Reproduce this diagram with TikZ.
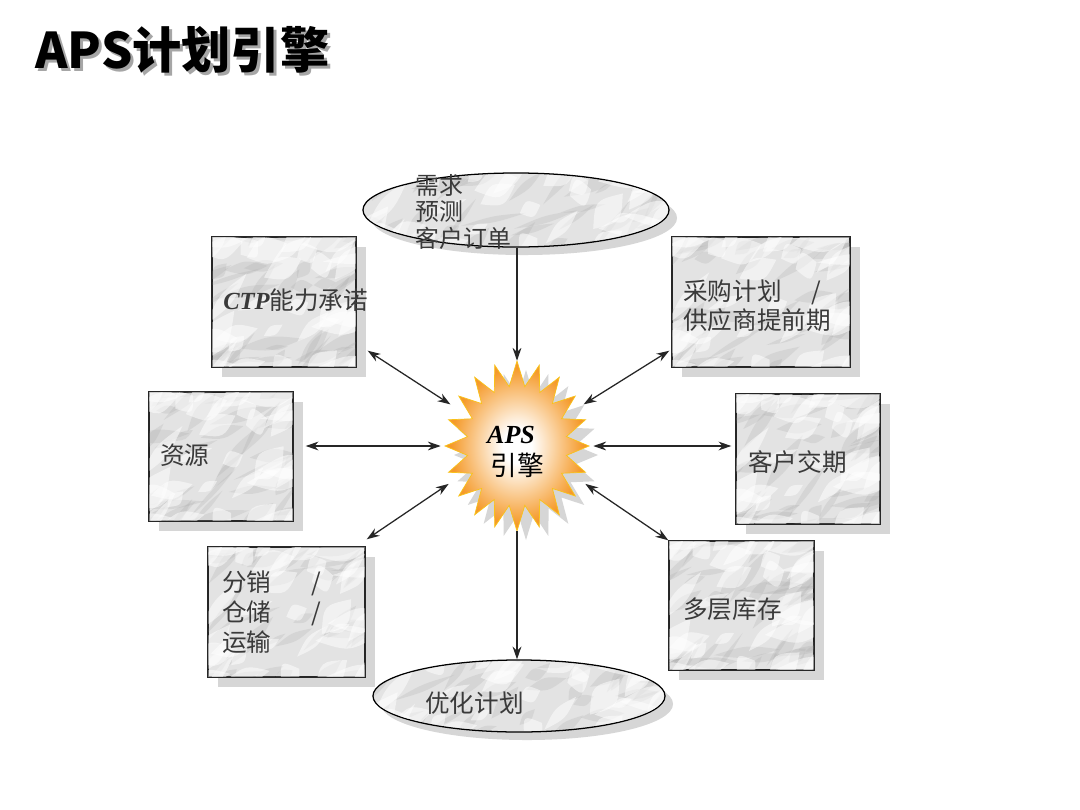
\documentclass[tikz,border=0pt]{standalone}
\usepackage{fontspec}
\setmainfont{Liberation Serif}
\newfontfamily\cjk{Noto Sans CJK SC}
\usetikzlibrary{shapes.geometric,arrows.meta,shadows,calc}
\definecolor{txt}{HTML}{3A3A3A}
\definecolor{marblebase}{HTML}{E3E3E3}
\definecolor{marbledark}{HTML}{A0A0A0}
\definecolor{shadowgray}{HTML}{D6D6D6}
\definecolor{starorange}{HTML}{F59A2A}
\definecolor{linecol}{HTML}{262626}
\pgfdeclareradialshading{starshade}{\pgfpoint{0bp}{0bp}}{color(0bp)=(white); color(5bp)=(white); color(23bp)=(starorange); color(50bp)=(starorange)}
% marble streaks around a node: #1 node, #2 half width, #3 half height, #4 seed, #5 colour, #6 opacity, #7 count, #8 length, #9 thickness
\newcommand\marblestreaks[9]{%
  \foreach \k in {1,...,#7}{%
    \pgfmathsetmacro\mx{#2*sin(\k*137.508+#4*53)}%
    \pgfmathsetmacro\my{#3*sin(\k*71.3+#4*29+40)}%
    \pgfmathsetmacro\mr{-30+25*sin(\k*43.1+#4*17)}%
    \pgfmathsetmacro\ma{#8*(1+0.5*sin(\k*89.7+#4))}%
    \pgfmathsetmacro\mb{#9*(1+0.5*sin(\k*57.9+#4*7))}%
    \pgfmathsetmacro\ax{\ma*cos(\mr)}%
    \pgfmathsetmacro\ay{\ma*sin(\mr)}%
    \pgfmathsetmacro\bx{-\mb*sin(\mr)}%
    \pgfmathsetmacro\by{\mb*cos(\mr)}%
    \fill[#5, opacity=#6] ($(#1.center)+(\mx+\ax,\my+\ay)$)
      .. controls ($(#1.center)+(\mx+2*\bx,\my+2*\by)$) .. ($(#1.center)+(\mx-\ax,\my-\ay)$)
      .. controls ($(#1.center)+(\mx-2*\bx,\my-2*\by)$) .. cycle;
  }%
}
\newcommand\marblefill[4]{% node, half width, half height, seed
  \marblestreaks{#1}{#2}{#3}{#4}{marbledark}{0.2}{46}{22}{3}%
  \marblestreaks{#1}{#2}{#3}{#4+5}{white}{0.5}{36}{22}{6}%
}
\begin{document}
\begin{tikzpicture}[x=0.025cm,y=-0.025cm,
  >={Stealth[length=3.2mm,width=2.2mm]},
  box/.style={shape=rectangle, fill=marblebase, draw=black!85, line width=1pt, inner sep=0pt,
    drop shadow={shadow xshift=0.25cm, shadow yshift=-0.25cm, fill=shadowgray, opacity=1}},
  oval/.style={shape=ellipse, fill=marblebase, draw=black, line width=0.9pt, inner sep=0pt,
    drop shadow={shadow xshift=0.2cm, shadow yshift=-0.2cm, fill=shadowgray, opacity=1}},
  lbl/.style={font=\cjk\fontsize{17.5}{20}\selectfont, text=txt, anchor=west, inner sep=0pt, align=left},
  conn/.style={draw=linecol, line width=0.9pt},
  ttl/.style={font=\cjk\bfseries\fontsize{35}{40}\selectfont, anchor=west, inner sep=0pt}
]
\fill[white] (0,0) rectangle (1080,810);
\useasboundingbox (0,0) rectangle (1080,810);

% title
\node[ttl, text=black!35] (titleshadow) at (38,53) {APS计划引擎};
\node[ttl, text=black] (title) at (35,50) {APS计划引擎};

% boxes
\node[box, minimum width=3.6cm, minimum height=3.25cm] (ctp) at (284,302) {};
\node[box, minimum width=4.45cm, minimum height=3.25cm] (pur) at (761,302) {};
\node[box, minimum width=3.6cm, minimum height=3.225cm] (res) at (221,456.5) {};
\node[box, minimum width=3.6cm, minimum height=3.25cm] (cus) at (808,459) {};
\node[box, minimum width=3.925cm, minimum height=3.25cm] (dis) at (286.5,612) {};
\node[box, minimum width=3.625cm, minimum height=3.225cm] (inv) at (741.5,605.5) {};

% ellipses
\node[oval, minimum width=7.65cm, minimum height=1.85cm] (dem) at (516,210) {};
\node[oval, minimum width=7.3cm, minimum height=1.8cm] (opt) at (519,696) {};

% marble textures
\foreach \n/\w/\h/\s in {ctp/72/65/1, pur/89/65/2, res/72/64/3, cus/72/65/4, dis/78/65/5, inv/72/64/6}{
  \begin{scope}
    \clip ([shift={(1,-1)}]\n.south west) rectangle ([shift={(-1,1)}]\n.north east);
    \marblefill{\n}{\w}{\h}{\s}
  \end{scope}
}
\begin{scope}
  \clip (dem.center) ellipse (152 and 36);
  \marblefill{dem}{150}{36}{7}
\end{scope}
\begin{scope}
  \clip (opt.center) ellipse (145 and 35);
  \marblefill{opt}{143}{35}{8}
\end{scope}

% star
\node[shape=ellipse, minimum width=3.8cm, minimum height=4.25cm, inner sep=0pt] (aps) at (517,446) {};
\fill[shadowgray, shift={(aps.center)}, shift={(9,9)}] (90:72 and 85)
  \foreach \i [evaluate=\i as \rx using {mod(\i,2)==0 ? 72 : 50},
               evaluate=\i as \ry using {mod(\i,2)==0 ? 85 : 60}] in {1,...,39} { -- ({90+9*\i}:{\rx} and {\ry}) } -- cycle;
\shade[shading=starshade, draw=starorange!60!yellow, line width=0.5pt, shift={(aps.center)}] (90:72 and 85)
  \foreach \i [evaluate=\i as \rx using {mod(\i,2)==0 ? 72 : 50},
               evaluate=\i as \ry using {mod(\i,2)==0 ? 85 : 60}] in {1,...,39} { -- ({90+9*\i}:{\rx} and {\ry}) } -- cycle;

% connectors
\draw[conn, ->] (dem.south -| aps.north) -- (aps.north);
\draw[conn, ->] (aps.south) -- (aps.south |- opt.north);
\draw[conn, <->] ([shift={(11,-17)}]ctp.south east) -- (aps.148);
\draw[conn, <->] ([shift={(-2,-17)}]pur.south west) -- (aps.32);
\draw[conn, <->] ($(res.east |- aps.west)+(12,0)$) -- (aps.west);
\draw[conn, <->] (aps.east) -- ($(cus.west |- aps.east)+(-4,0)$);
\draw[conn, <->] ([shift={(1,-7)}]dis.north east) -- (aps.-151);
\draw[conn, <->] (inv.north west) -- (aps.-29);

% labels
\node[lbl, font=\cjk\fontsize{17}{19.1}\selectfont] (demT) at (415,212) {需求\\预测\\客户订单};
\node[lbl] (ctpT) at (223,300) {{\rmfamily\bfseries\itshape CTP}能力承诺};
\node[lbl, font=\cjk\fontsize{17.5}{20.6}\selectfont] (purT) at (683,305.5) {采购计划\hspace{0.75cm}/\\供应商提前期};
\node[lbl] (resT) at (160,455) {资源};
\node[lbl] (cusT) at (748,462) {客户交期};
\node[lbl, font=\cjk\fontsize{17.5}{21.3}\selectfont] (disT) at (222,612) {分销\hspace{1cm}/\\仓储\hspace{1cm}/\\运输};
\node[lbl] (invT) at (683,609) {多层库存};
\node[lbl] (optT) at (425,703) {优化计划};
\node[font=\rmfamily\bfseries\itshape\fontsize{18.5}{20}\selectfont, inner sep=0pt] (apsT) at (511,435) {APS};
\node[font=\cjk\fontsize{19}{20}\selectfont, inner sep=0pt] (engT) at (517,465) {引擎};
\end{tikzpicture}
\end{document}
